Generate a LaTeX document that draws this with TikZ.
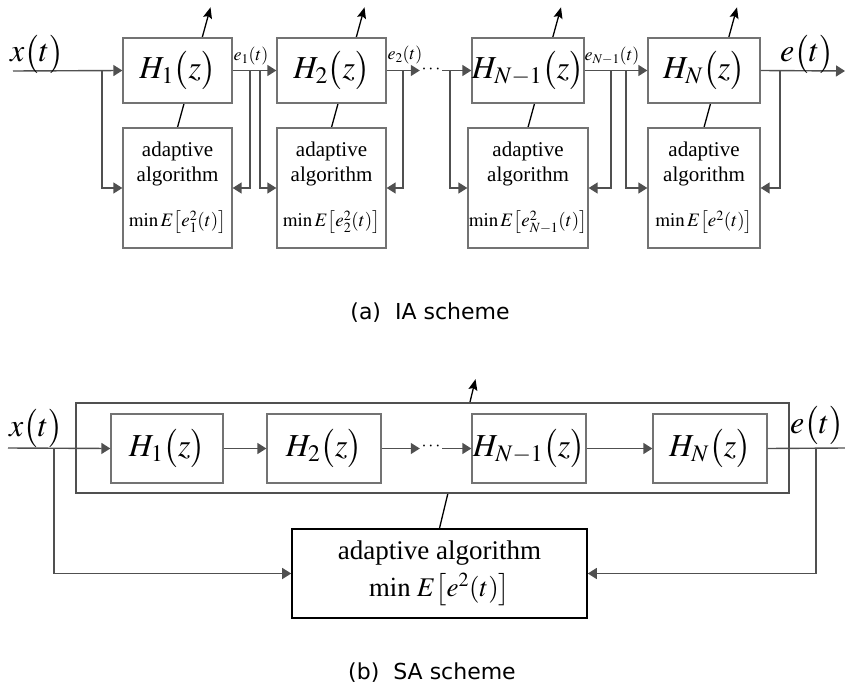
\documentclass[tikz,border=0pt]{standalone}
\usepackage{mathptmx}
\usepackage{fontspec}
\setmainfont{Liberation Serif}
\newfontfamily\capfont{DejaVu Sans}
\usetikzlibrary{arrows.meta, positioning, calc}
\definecolor{wiregray}{RGB}{80,80,80}
\definecolor{framegray}{RGB}{115,115,115}
\pgfdeclarelayer{bg}
\pgfsetlayers{bg,main}

\tikzset{
  blk/.style={draw=framegray, line width=1.3pt, fill=white, inner sep=0pt, minimum height=65pt, font=\fontsize{32}{32}\selectfont},
  algbox/.style={draw=framegray, line width=1.3pt, fill=white, inner sep=0pt, minimum width=109pt, minimum height=120pt, align=center, font=\fontsize{21}{25}\selectfont},
  sig/.style={draw=wiregray, line width=1.4pt, -{Triangle[length=9pt,width=11pt]}},
  wire/.style={draw=wiregray, line width=1.4pt},
  tune/.style={draw=black, line width=1.3pt, -{Stealth[length=11pt,width=9pt,inset=2pt]}},
  biglbl/.style={inner sep=0pt, font=\fontsize{32}{32}\selectfont},
  smalllbl/.style={inner sep=0pt, font=\fontsize{18}{18}\selectfont},
  dotsnode/.style={inner sep=0pt, minimum width=22pt, font=\fontsize{18}{18}\selectfont},
  caption/.style={font=\capfont\fontsize{22}{22}\selectfont}
}

\begin{document}
\begin{tikzpicture}[x=1pt, y=-1pt]
  \useasboundingbox (0,0) rectangle (845,687);

  % (a) IA scheme
  \node[blk, minimum width=109pt] (h1) at (177.5,70.5) {$H_1\bigl(z\bigr)$};
  \node[blk, minimum width=109pt] (h2) at (331.5,70.5) {$H_2\bigl(z\bigr)$};
  \node[blk, minimum width=110pt] (hn1) at (528,70.5) {$H_{N-1}\bigl(z\bigr)$};
  \node[blk, minimum width=112pt] (hn) at (704,70.5) {$H_N\bigl(z\bigr)$};

  \node[algbox] (a1) at (177.5,188) {adaptive\\algorithm\\[20pt]{\fontsize{19}{19}\selectfont$\min E\bigl[e_1^2(t)\bigr]$}};
  \node[algbox] (a2) at (331.5,188) {adaptive\\algorithm\\[20pt]{\fontsize{19}{19}\selectfont$\min E\bigl[e_2^2(t)\bigr]$}};
  \node[algbox, minimum width=120pt] (an1) at (528,188) {adaptive\\algorithm\\[20pt]{\fontsize{19}{19}\selectfont$\min E\bigl[e_{N-1}^2(t)\bigr]$}};
  \node[algbox, minimum width=112pt] (an) at (704,188) {adaptive\\algorithm\\[20pt]{\fontsize{19}{19}\selectfont$\min E\bigl[e^2(t)\bigr]$}};

  \begin{pgfonlayer}{bg}
    \foreach \n in {a1,a2,an1,an}
      \draw[tune] (\n.north) -- ++(33,-120);
  \end{pgfonlayer}

  \node[dotsnode] (dA) at (431,70) {$\cdots$};

  \coordinate (xin) at (13,71);
  \coordinate (eout) at (845,71);
  \coordinate (bx) at (102,71);
  \coordinate (b1l) at (250,71);
  \coordinate (b1r) at (260,71);
  \coordinate (b2l) at (403,71);
  \coordinate (b2r) at (450,71);
  \coordinate (b3l) at (611,71);
  \coordinate (b3r) at (626,71);
  \coordinate (be) at (780,71);

  \draw[sig] (xin) -- (h1.west);
  \draw[sig] (h1.east) -- (h2.west);
  \draw[sig] (h2.east) -- (h2.east -| dA.west);
  \draw[sig] (dA.east |- hn1.west) -- (hn1.west);
  \draw[sig] (hn1.east) -- (hn.west);
  \draw[sig] (hn.east) -- (eout);

  \draw[sig] (bx) |- (a1.west);
  \draw[sig] (b1l) |- (a1.east);
  \draw[sig] (b1r) |- (a2.west);
  \draw[sig] (b2l) |- (a2.east);
  \draw[sig] (b2r) |- (an1.west);
  \draw[sig] (b3l) |- (an1.east);
  \draw[sig] (b3r) |- (an.west);
  \draw[sig] (be) |- (an.east);

  \node[biglbl] (xlbl) at (37,54) {$x\bigl(t\bigr)$};
  \node[smalllbl] (e1lbl) at (251,56) {$e_1(t)$};
  \node[smalllbl] (e2lbl) at (405,55) {$e_2(t)$};
  \node[smalllbl] (en1lbl) at (612,56) {$e_{N-1}(t)$};
  \node[biglbl] (elbl) at (807,54) {$e\bigl(t\bigr)$};

  \node[caption] (capA) at (430,313) {(a)\ \ IA scheme};

  % (b) SA scheme
  \node[draw=wiregray, line width=1.3pt, fill=white, minimum width=713pt, minimum height=90pt] (outer) at (432.5,448) {};

  \node[blk, minimum width=112pt, minimum height=69pt] (hb1) at (167,448.5) {$H_1\bigl(z\bigr)$};
  \node[blk, minimum width=114pt, minimum height=69pt] (hb2) at (324,448.5) {$H_2\bigl(z\bigr)$};
  \node[blk, minimum width=114pt, minimum height=69pt] (hbn1) at (529,448.5) {$H_{N-1}\bigl(z\bigr)$};
  \node[blk, minimum width=114pt, minimum height=69pt] (hbn) at (710,448.5) {$H_N\bigl(z\bigr)$};

  \node[draw=black, line width=1.6pt, fill=white, inner sep=0pt, minimum width=295pt, minimum height=89pt, align=center, font=\fontsize{27}{30}\selectfont] (alg) at (439.5,573.5) {adaptive algorithm\\[7pt]$\min\,E\bigl[e^2(t)\bigr]$};

  \begin{pgfonlayer}{bg}
    \draw[tune] (alg.north) -- ++(36,-149);
  \end{pgfonlayer}

  \node[dotsnode] (dB) at (431,447) {$\cdots$};

  \coordinate (xinb) at (8,448);
  \coordinate (eoutb) at (845,448);
  \coordinate (bxb) at (54,448);
  \coordinate (beb) at (816,448);

  \draw[sig] (xinb) -- (hb1.west);
  \draw[sig] (hb1.east) -- (hb2.west);
  \draw[sig] (hb2.east) -- (hb2.east -| dB.west);
  \draw[sig] (dB.east |- hbn1.west) -- (hbn1.west);
  \draw[sig] (hbn1.east) -- (hbn.west);
  \draw[wire] (hbn.east) -- (eoutb);

  \draw[sig] (bxb) |- (alg.west);
  \draw[sig] (beb) |- (alg.east);

  \node[biglbl] (xlblb) at (36,428) {$x\bigl(t\bigr)$};
  \node[biglbl] (elblb) at (817,425) {$e\bigl(t\bigr)$};

  \node[caption] (capB) at (432,673) {(b)\ \ SA scheme};
\end{tikzpicture}
\end{document}
